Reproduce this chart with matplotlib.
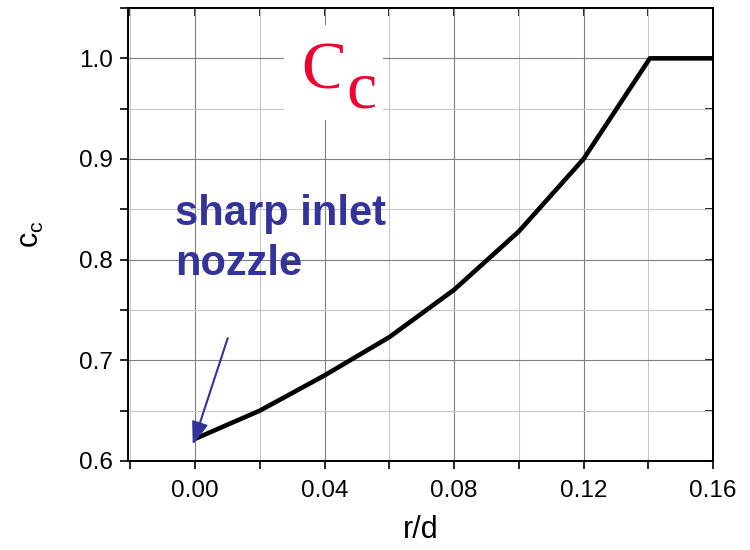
import numpy as np
from matplotlib import pyplot as plt
from matplotlib.ticker import MultipleLocator, FormatStrFormatter

# contraction coefficient vs. inlet rounding
r_d = [0.0, 0.02, 0.04, 0.06, 0.08, 0.10, 0.12, 0.1405, 0.16]
c_c = [0.622, 0.650, 0.685, 0.723, 0.770, 0.828, 0.900, 1.0, 1.0]

x_limits = (-0.0207, 0.16)
y_limits = (0.6, 1.05)

blue = "#333399"
red = "#f00030"

plt.rcParams["font.family"] = ["Liberation Sans", "DejaVu Sans"]
plt.rcParams["mathtext.fontset"] = "custom"
plt.rcParams["mathtext.rm"] = "Liberation Sans"
plt.rcParams["mathtext.it"] = "Liberation Sans:italic"

fig = plt.figure(figsize=(7.5, 5.5), dpi=100)
ax = fig.add_axes([128 / 750, 89 / 550, 585 / 750, 453 / 550])

# curve
ax.plot(r_d, c_c, color="black", linewidth=3.3, solid_joinstyle="round",
        solid_capstyle="butt", zorder=4)

# limits and ticks
ax.set_xlim(*x_limits)
ax.set_ylim(*y_limits)
ax.xaxis.set_major_locator(MultipleLocator(0.04))
ax.xaxis.set_minor_locator(MultipleLocator(0.02))
ax.yaxis.set_major_locator(MultipleLocator(0.1))
ax.yaxis.set_minor_locator(MultipleLocator(0.05))
ax.xaxis.set_major_formatter(FormatStrFormatter("%.2f"))
ax.yaxis.set_major_formatter(FormatStrFormatter("%.1f"))
ax.tick_params(which="both", direction="out", length=6, width=1.2,
               top=False, right=False, labelsize=17.5)
ax.tick_params(axis="x", which="major", pad=8)
ax.tick_params(axis="y", which="major", pad=5)

# inward ticks on top and right
sec_x = ax.secondary_xaxis("top")
sec_x.xaxis.set_major_locator(MultipleLocator(0.02))
sec_x.tick_params(direction="in", length=6, width=1.2, labeltop=False)
sec_y = ax.secondary_yaxis("right")
sec_y.yaxis.set_major_locator(MultipleLocator(0.05))
sec_y.tick_params(direction="in", length=6, width=1.2, labelright=False)

for spine in list(ax.spines.values()) + [sec_x.spines["top"], sec_y.spines["right"]]:
    spine.set_linewidth(1.4)

# grid
ax.set_axisbelow(True)
ax.grid(which="major", color="#808080", linewidth=0.8)
ax.grid(which="minor", color="#c8c8c8", linewidth=0.8)

# labels
ax.set_xlabel("r/d", fontsize=22, labelpad=9)
ax.set_ylabel(r"$\mathregular{c_c}$", fontsize=22, labelpad=24)

# red Cc title inside plot
ax.text(0.0328, 0.970, "C", color=red, fontsize=49, family="Liberation Serif",
        va="baseline", ha="left", zorder=3,
        bbox=dict(boxstyle="square,pad=0.25", facecolor="white", edgecolor="none"))
ax.text(0.0466, 0.9515, "c", color=red, fontsize=49, family="Liberation Serif",
        va="baseline", ha="left", zorder=3,
        bbox=dict(boxstyle="square,pad=0.1", facecolor="white", edgecolor="none"))

# annotation
ax.text(-0.00625, 0.834, "sharp inlet", color=blue, fontsize=30,
        fontweight="bold", va="baseline", ha="left")
ax.text(-0.00625, 0.785, "nozzle", color=blue, fontsize=30,
        fontweight="bold", va="baseline", ha="left")
ax.annotate("", xy=(-0.0007, 0.616), xytext=(0.0101, 0.722),
            arrowprops=dict(arrowstyle="-|>,head_length=0.7,head_width=0.25",
                            color=blue, linewidth=1.5, mutation_scale=20,
                            shrinkA=0, shrinkB=0), zorder=5)

fig.savefig("out.png", dpi=100)
